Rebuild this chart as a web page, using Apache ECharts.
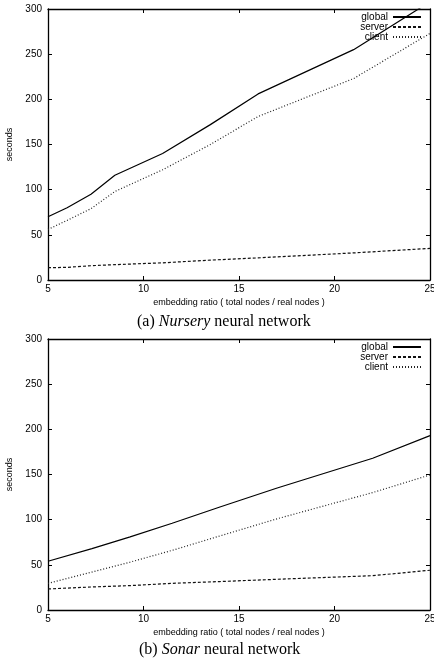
<!DOCTYPE html>
<html>
<head>
<meta charset="utf-8">
<script src="https://cdn.jsdelivr.net/npm/echarts@6/dist/echarts.min.js"></script>
<style>html,body{margin:0;padding:0;background:#fff}#c{width:434px;height:664px}</style>
</head>
<body>
<div id="c"></div>
<script>
// (a) Nursery
const nurseryX = [5, 6, 7.25, 8.5, 11, 13.5, 16, 21, 25];
const nurseryGlobal = [70, 80, 95, 116, 140, 172, 206, 255, 308];
const nurseryServer = [13.6, 14, 15.8, 17, 19, 22, 24.5, 30, 35];
const nurseryClient = [56, 66, 79, 98, 122, 150, 181, 223, 273];
// (b) Sonar
const sonarX = [5, 7.3, 9.3, 11.5, 14, 17, 22, 25];
const sonarGlobal = [54, 68, 81, 96, 114, 135, 168, 193];
const sonarServer = [23.3, 25.5, 27, 29.5, 31.5, 34, 38, 44];
const sonarClient = [29.5, 42, 53, 66, 82, 101, 130, 149.5];
const seriesNames = ['global', 'server', 'client'];
const xTicks = [5, 10, 15, 20, 25];
const yTicks = [0, 50, 100, 150, 200, 250, 300];
const xTitle = 'embedding ratio ( total nodes / real nodes )';
const yTitle = 'seconds';

const font = '"Liberation Sans Narrow", "Liberation Sans", Arial, sans-serif';
const styles = {
  global: { type: 'solid', color: '#000' },
  server: { type: [3, 2], color: '#111' },
  client: { type: [1, 2], color: '#222' }
};
function pairs(xs, ys) { return xs.map((x, i) => [x, ys[i]]); }

const grids = [
  { left: 48, right: 4, top: 9, height: 271, outerBoundsMode: 'none', containLabel: false },
  { left: 48, right: 4, top: 339, height: 271, outerBoundsMode: 'none', containLabel: false }
];
const xAxes = [], yAxes = [], series = [], legends = [];
grids.forEach((g, gi) => {
  const base = {
    gridIndex: gi, type: 'value', min: xTicks[0], max: xTicks[xTicks.length - 1], interval: 5,
    splitLine: { show: false },
    axisLine: { show: true, onZero: false, lineStyle: { color: '#000', width: 1.3 } },
    axisTick: { show: true, inside: true, length: 4, lineStyle: { color: '#000' } }
  };
  xAxes.push(Object.assign({}, base, {
    position: 'bottom',
    axisLabel: { fontFamily: font, fontSize: 10, color: '#000', margin: 4 },
    name: xTitle, nameLocation: 'middle', nameGap: 18,
    nameTextStyle: { fontFamily: font, fontSize: 9, color: '#000' }
  }));
  xAxes.push(Object.assign({}, base, { position: 'top', axisLabel: { show: false } }));
  const ybase = {
    gridIndex: gi, type: 'value', min: yTicks[0], max: yTicks[yTicks.length - 1], interval: 50,
    splitLine: { show: false },
    axisLine: { show: true, onZero: false, lineStyle: { color: '#000', width: 1.3 } },
    axisTick: { show: true, inside: true, length: 4, lineStyle: { color: '#000' } }
  };
  yAxes.push(Object.assign({}, ybase, {
    position: 'left',
    axisLabel: { fontFamily: font, fontSize: 10, color: '#000', margin: 6 },
    name: yTitle, nameLocation: 'middle', nameGap: 34,
    nameTextStyle: { fontFamily: font, fontSize: 9, color: '#000' }
  }));
  yAxes.push(Object.assign({}, ybase, { position: 'right', axisLabel: { show: false } }));
  const data = gi === 0
    ? { global: pairs(nurseryX, nurseryGlobal), server: pairs(nurseryX, nurseryServer), client: pairs(nurseryX, nurseryClient) }
    : { global: pairs(sonarX, sonarGlobal), server: pairs(sonarX, sonarServer), client: pairs(sonarX, sonarClient) };
  seriesNames.forEach(n => {
    series.push({
      name: n, type: 'line', xAxisIndex: gi * 2, yAxisIndex: gi * 2,
      data: data[n], symbol: 'none', clip: true, animation: false,
      lineStyle: { color: styles[n].color, width: 1.2, type: styles[n].type },
      itemStyle: { color: styles[n].color }
    });
  });
  legends.push({
    data: seriesNames, orient: 'vertical', align: 'right',
    right: 12, top: g.top + 3, itemWidth: 28, itemHeight: 8, itemGap: 0,
    padding: 0, selectedMode: false,
    itemStyle: { opacity: 0 },
    textStyle: { fontFamily: font, fontSize: 10, color: '#000', padding: [0, 0, 0, 0] }
  });
});

const chart = echarts.init(document.getElementById('c'), null, { renderer: 'canvas' });
chart.setOption({
  animation: false,
  backgroundColor: '#fff',
  grid: grids,
  xAxis: xAxes,
  yAxis: yAxes,
  legend: legends,
  series: series,
  graphic: [
    { type: 'text', left: 137, top: 314, style: {
      text: '(a) {i|Nursery} neural network', font: '16px "Liberation Serif", serif', fill: '#000',
      rich: { i: { fontStyle: 'italic', fontFamily: '"Liberation Serif", serif', fontSize: 16 } } } },
    { type: 'text', left: 139, top: 642, style: {
      text: '(b) {i|Sonar} neural network', font: '16px "Liberation Serif", serif', fill: '#000',
      rich: { i: { fontStyle: 'italic', fontFamily: '"Liberation Serif", serif', fontSize: 16 } } } }
  ]
});
</script>
</body>
</html>
